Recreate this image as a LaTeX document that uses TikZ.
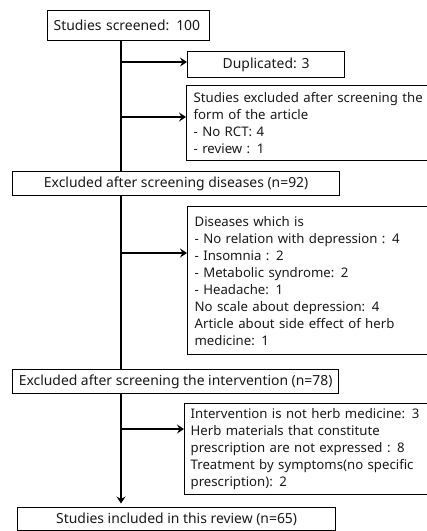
\documentclass[tikz,border=0pt]{standalone}
\usepackage{fontspec}
\setmainfont{Noto Sans}
\usetikzlibrary{arrows.meta}
\begin{document}
\begin{tikzpicture}[x=1pt,y=-1pt,
  box/.style={draw=black, line width=1.3pt, inner sep=0pt, font=\fontsize{13.9}{17}\selectfont, text=black!90},
  sidebox/.style={box, anchor=north west, align=left, text width=260pt, inner xsep=7pt, font=\fontsize{13.2}{17}\selectfont},
  conn/.style={line width=1.8pt},
  arr/.style={conn, -{Stealth[length=7pt,width=9pt,inset=2.5pt]}}]
\useasboundingbox (0,0) rectangle (427,531);
\clip (0,0) rectangle (427,531);
\node[box, anchor=north west, minimum height=30pt, text width=150pt, inner xsep=6pt, align=left] (a) at (47,10) {Studies screened: 100};
\node[box, anchor=north west, minimum width=157pt, minimum height=26pt] (b) at (187,51) {Duplicated: 3};
\node[sidebox, minimum height=75pt] (c) at (186,85) {Studies excluded after screening the\\form of the article\\- No RCT: 4\\- review : 1};
\node[box, anchor=north west, minimum width=327pt, minimum height=24pt] (d) at (12,171) {Excluded after screening diseases (n=92)};
\node[sidebox, minimum height=148pt] (e) at (187,206) {Diseases which is\\- No relation with depression : 4\\- Insomnia : 2\\- Metabolic syndrome: 2\\- Headache: 1\\No scale about depression: 4\\Article about side effect of herb\\medicine: 1};
\node[box, anchor=north west, minimum width=326pt, minimum height=24pt] (f) at (12,369) {Excluded after screening the intervention (n=78)};
\node[sidebox, minimum height=91pt, inner xsep=6pt] (g) at (184,403) {Intervention is not herb medicine: 3\\Herb materials that constitute\\prescription are not expressed : 8\\Treatment by symptoms(no specific\\prescription): 2};
\node[box, anchor=north west, minimum width=318pt, minimum height=23pt] (h) at (17,507) {Studies included in this review (n=65)};
\coordinate (tx) at (121,0);
\coordinate (b1) at (121,62);
\coordinate (b2) at (121,117);
\coordinate (b3) at (121,253);
\coordinate (b4) at (121,429);
\draw[conn] (tx |- a.south) -- (tx |- d.north);
\draw[conn] (tx |- d.south) -- (tx |- f.north);
\draw[arr, shorten >=3.5pt] (tx |- f.south) -- (tx |- h.north);
\draw[arr] (b1) -- (b1 -| b.west);
\draw[arr] (b2) -- (b2 -| c.west);
\draw[arr] (b3) -- (b3 -| e.west);
\draw[arr] (b4) -- (b4 -| g.west);
\end{tikzpicture}
\end{document}
